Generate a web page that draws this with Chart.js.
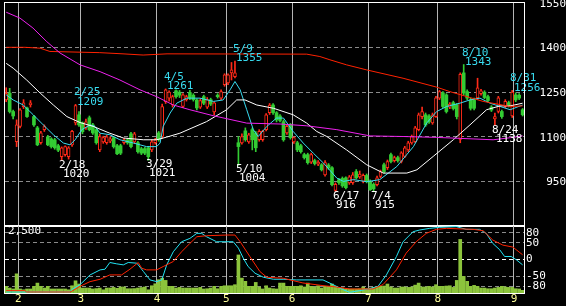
<!DOCTYPE html>
<html><head><meta charset="utf-8">
<script src="https://cdn.jsdelivr.net/npm/chart.js@4/dist/chart.umd.min.js"></script>
<style>
html,body{margin:0;padding:0;background:#000;}
#wrap{position:relative;width:566px;height:306px;overflow:hidden;background:#000;}
canvas{position:absolute;left:0;top:0;}
</style></head><body>
<div id="wrap"><canvas id="main" width="566" height="306"></canvas><canvas id="sub" width="566" height="306"></canvas></div>
<script>
// ---- DATA ----
const monthLabels = ['2','3','4','5','6','7','8','9'];
const monthStart  = [4, 22, 44, 64, 83, 105, 125, 147];   // index of first trading day in each month
const priceTicks  = [950, 1100, 1250, 1400, 1550];
const oscTicks    = [80, 50, 0, -50, -80];
const volTicks    = [2500];

const open = [1224,1247,1185,1084,1135,1201,1197,1208,1168,1130,
 1080,1124,1100,1093,1090,1070,1033,1040,1033,1073,
 1147,1174,1147,1130,1164,1140,1124,1056,1083,1080,
 1085,1097,1070,1070,1080,1090,1110,1083,1080,1060,
 1060,1063,1056,1080,1113,1101,1218,1230,1207,1255,
 1250,1202,1225,1249,1240,1224,1200,1235,1200,1225,
 1184,1240,1230,1275,1281,1315,1302,1080,1079,1120,
 1083,1124,1113,1090,1090,1124,1181,1207,1181,1170,
 1151,1113,1141,1083,1080,1070,1040,1040,1015,1020,
 1008,1006,972,1005,996,920,956,960,962,945,
 946,983,965,950,970,950,940,939,967,1006,
 996,1040,1020,1030,1017,1034,1056,1079,1084,1124,
 1168,1174,1170,1147,1168,1230,1248,1241,1200,1215,
 1208,1091,1315,1252,1224,1224,1231,1245,1250,1235,
 1200,1160,1185,1185,1202,1215,1170,1241,1240,1191];
const high = [1265,1263,1190,1157,1195,1225,1200,1222,1172,1135,
 1118,1140,1105,1097,1095,1075,1066,1070,1067,1122,
 1209,1185,1150,1160,1170,1145,1128,1110,1102,1105,
 1100,1100,1075,1075,1095,1095,1115,1115,1085,1065,
 1065,1068,1090,1095,1118,1210,1261,1255,1240,1258,
 1256,1245,1240,1256,1245,1228,1228,1240,1232,1230,
 1218,1245,1258,1312,1312,1350,1355,1101,1110,1130,
 1112,1130,1118,1124,1122,1178,1212,1212,1185,1175,
 1157,1140,1145,1100,1085,1075,1045,1045,1045,1025,
 1020,1010,1020,1010,1000,945,960,965,965,970,
 980,990,985,975,975,955,945,968,988,1012,
 1022,1045,1035,1035,1050,1068,1085,1106,1135,1180,
 1200,1180,1175,1180,1236,1256,1252,1245,1215,1220,
 1212,1315,1343,1258,1230,1230,1297,1260,1255,1240,
 1205,1180,1236,1190,1225,1220,1256,1248,1245,1195];
const low = [1218,1180,1160,1067,1130,1195,1165,1200,1135,1070,
 1075,1118,1070,1062,1058,1050,1020,1035,1025,1068,
 1140,1135,1110,1125,1120,1108,1075,1050,1078,1075,
 1080,1062,1040,1040,1075,1075,1063,1078,1045,1040,
 1040,1021,1050,1075,1085,1095,1212,1220,1200,1230,
 1232,1198,1220,1225,1220,1190,1195,1208,1195,1205,
 1174,1230,1225,1270,1275,1291,1298,1004,1075,1085,
 1078,1056,1050,1085,1085,1120,1175,1175,1150,1150,
 1085,1108,1092,1078,1050,1045,1025,1008,1010,1005,
 1003,985,968,990,935,916,940,930,925,940,
 940,958,960,945,945,920,915,935,962,978,
 990,1012,1015,1015,1012,1030,1050,1075,1080,1120,
 1160,1135,1145,1142,1165,1225,1198,1180,1195,1190,
 1160,1080,1240,1225,1190,1190,1225,1240,1228,1218,
 1185,1138,1180,1162,1198,1200,1165,1218,1225,1170];
const close = [1245,1185,1170,1140,1191,1214,1168,1214,1140,1073,
 1113,1134,1073,1067,1063,1055,1063,1067,1063,1118,
 1205,1140,1117,1150,1124,1113,1080,1101,1097,1100,
 1093,1067,1043,1045,1090,1080,1067,1110,1050,1045,
 1045,1033,1083,1090,1090,1202,1258,1250,1235,1235,
 1240,1241,1235,1230,1225,1197,1222,1213,1225,1210,
 1214,1235,1252,1308,1308,1325,1315,1067,1101,1090,
 1107,1090,1063,1118,1118,1174,1207,1181,1157,1155,
 1090,1135,1097,1097,1056,1050,1030,1013,1040,1010,
 1015,989,1013,995,939,940,946,935,929,965,
 972,962,975,970,950,922,925,962,983,983,
 1017,1017,1030,1020,1046,1063,1080,1101,1130,1174,
 1185,1140,1150,1174,1231,1252,1202,1185,1210,1195,
 1168,1310,1247,1230,1196,1196,1265,1255,1232,1222,
 1190,1168,1231,1168,1219,1205,1250,1224,1230,1174];
const volume = [250,185,150,715,150,120,150,150,250,370,
 250,185,250,150,150,150,150,150,120,270,
 455,335,185,185,185,150,165,185,120,185,
 185,210,175,225,225,160,160,165,185,205,
 225,120,270,345,495,555,470,250,250,185,
 210,185,185,185,185,185,210,150,160,185,
 250,160,250,270,270,270,310,1420,555,435,
 250,250,395,225,150,270,185,160,150,370,
 370,250,250,250,250,270,225,370,250,225,
 270,185,250,225,335,250,185,185,150,150,
 150,150,160,225,160,185,205,250,250,260,
 335,225,185,185,225,225,210,225,295,370,
 225,225,250,225,310,250,250,260,270,210,
 470,2000,620,435,250,285,250,185,185,160,
 160,185,210,250,225,210,210,160,150,100];

// moving averages, read as (day index, price) samples
const maShortIdx = [0,2,4.9,7.8,10.7,13.6,16.5,18.4,19.9,21.8,24.2,25.6,27.1,29.9,32.8,36.7,40.5,43.4,44.4,45.3,47.3,49.2,52.1,55.9,59.8,62.6,64.6,66,67.5,69.4,71.3,72.7,75.2,78,80,82.8,85.7,88.6,91.5,95.4,97.3,100.2,104,107.8,112.7,117.5,121.3,124.2,127.1,130.9,133.8,136.7,139.6,142.5,145.4,149];
const maShortVal = [1241,1224,1207,1174,1140,1107,1079,1073,1090,1124,1140,1135,1112,1107,1090,1079,1067,1067,1079,1135,1180,1213,1230,1230,1219,1224,1258,1286,1258,1191,1124,1101,1135,1163,1163,1118,1079,1045,1012,961,950,956,949,956,1000,1067,1146,1185,1202,1213,1224,1230,1213,1202,1191,1207];
const maMidIdx = [0,2,5.9,9.8,13.6,17.5,21.3,25.1,29.9,33.8,39.6,43.4,46.3,50.1,57.8,63.6,66.5,68.9,72.3,77.1,82.8,86.7,89.6,92.5,98.2,104,108.8,115.6,118.5,123.2,129,133.8,138.6,142.5,145.4,149];
const maMidVal = [1347,1331,1291,1247,1207,1168,1148,1135,1112,1096,1090,1090,1099,1112,1151,1191,1224,1224,1207,1196,1174,1146,1118,1101,1056,1006,978,978,989,1034,1090,1140,1191,1204,1204,1213];
const maLongIdx = [0,4,7.7,11.7,15.5,21.3,27.1,32.8,38.6,43.4,48.2,53,59.7,69.4,79,86.7,95.4,105,114.5,124.2,140.5,146.2,149];
const maLongVal = [1519,1499,1466,1420,1382,1342,1319,1291,1258,1235,1207,1191,1171,1146,1143,1137,1124,1103,1101,1098,1090,1098,1103];
const maXLongIdx = [0,5.4,9.8,12.6,27,33.7,39.5,46.4,86.7,90.5,93.4,98.2,104,114.5,124.2,128,137.6,145.4,149];
const maXLongVal = [1401,1401,1398,1387,1383,1379,1375,1379,1378,1370,1359,1342,1325,1297,1267,1252,1219,1202,1204];

// oscillator lines in the lower panel
const oscAIdx = [0,18.4,18.9,21.3,24.2,27.1,28.5,29.9,31.9,33.8,35.2,37.7,39.6,41.5,43.4,44.9,46.3,48.2,50.6,53,55,56.4,57.8,60.7,65.5,67,68.4,69.8,71.8,74.2,77.1,79.9,83.7,91.4,94.3,97.2,99.1,102,104.9,107.3,109.7,112.6,114.5,117.4,119.3,122.2,125.1,129.9,132.7,136.6,138.5,140.4,142.4,143.8,145.7,147.2,149];
const oscAVal = [-97,-97,-90,-75,-46,-31,-29,-9,-13,-16,-9,-11,-36,-61,-66,-61,-16,23,53,63,78,78,68,53,53,34,4,-21,-41,-53,-59,-59,-61,-61,-75,-90,-98,-93,-87,-80,-46,9,53,83,88,93,96,98,90,90,78,48,29,9,9,-1,-16];
const oscBIdx = [0,5.4,5.9,18.4,18.9,21.3,24.2,27.1,29.9,33.3,35.7,38.1,39.1,40.5,43.4,45.3,48.2,50.6,53,55,57.8,63.6,66,67.5,70.3,73.2,75.2,79.9,85.6,91.4,95.2,99.1,105.8,108.7,112.6,115.4,118.3,121.2,124.1,127,134.7,137.6,140.4,143.3,146.2,149];
const oscBVal = [-93,-93,-97,-97,-95,-80,-66,-59,-46,-46,-29,-9,-26,-31,-31,-21,-6,23,48,68,71,73,73,53,9,-36,-53,-56,-70,-78,-82,-88,-88,-75,-31,19,53,78,90,93,90,86,58,43,37,14];

// marked highs / lows
const markIdx  = [20, 16, 41, 46, 66, 67, 95, 106, 132, 141, 146];
const markDate = ['2/25','2/18','3/29','4/5','5/9','5/10','6/17','7/4','8/10','8/24','8/31'];
const markType = ['H','L','L','H','H','L','L','L','H','L','H'];

// ---- STYLE ----
const RED = '#ff2a18', GREEN = '#33cc33', CYAN = '#38dcf0', VOL = '#8cc43c';
const FONT = {family: 'DejaVu Sans Mono', size: 11};
const X_MIN = -0.35, X_MAX = 149.4;
Chart.defaults.font.family = 'DejaVu Sans Mono';
Chart.defaults.font.size = 11;
Chart.defaults.color = '#ffffff';

const dayIdx = open.map((_, i) => i);
const isUp = i => close[i] >= open[i];
const pts = (xs, ys) => xs.map((x, k) => ({x: x, y: ys[k]}));

const framePlugin = {
  id: 'frame',
  afterDraw(chart) {
    const a = chart.chartArea, ctx = chart.ctx;
    ctx.save();
    ctx.strokeStyle = '#ffffff'; ctx.lineWidth = 1;
    ctx.strokeRect(Math.round(a.left) - 0.5, Math.round(a.top) - 0.5,
                   Math.round(a.right - a.left) + 1, Math.round(a.bottom - a.top) + 1);
    ctx.restore();
  }
};

const markPlugin = {
  id: 'marks',
  afterDatasetsDraw(chart) {
    const xs = chart.scales.x, ys = chart.scales.y, ctx = chart.ctx;
    ctx.save();
    ctx.font = '11px "DejaVu Sans Mono"';
    ctx.textAlign = 'left'; ctx.textBaseline = 'middle';
    markIdx.forEach((i, k) => {
      const px = xs.getPixelForValue(i);
      if (markType[k] === 'H') {
        const py = ys.getPixelForValue(high[i]);
        ctx.fillStyle = CYAN;
        ctx.fillText(markDate[k], Math.round(px - 2), Math.round(py - 12));
        ctx.fillText(String(high[i]), Math.round(px + 1.5), Math.round(py - 2.5));
      } else {
        const py = ys.getPixelForValue(low[i]);
        ctx.fillStyle = '#ffffff';
        ctx.fillText(markDate[k], Math.round(px - 2.5), Math.round(py + 4));
        ctx.fillText(String(low[i]), Math.round(px + 1), Math.round(py + 13));
      }
    });
    ctx.restore();
  }
};

function xScale(showLabels) {
  return {
    type: 'linear', min: X_MIN, max: X_MAX, offset: false,
    grid: {display: true, color: '#b4b4b4', lineWidth: 1, drawTicks: false, offset: false},
    border: {display: false},
    ticks: {display: showLabels, color: '#ffff99', font: FONT, padding: 0, autoSkip: false, maxRotation: 0,
            callback: (v, k) => monthLabels[k]},
    afterBuildTicks: s => { s.ticks = monthStart.map(v => ({value: v - 0.5})); },
    afterFit: s => { s.height = showLabels ? 13 : 0; s.paddingLeft = 0; s.paddingRight = 0; }
  };
}

const lineDS = (xs, ys, color, axis) => ({
  type: 'line', data: pts(xs, ys), borderColor: color, borderWidth: 1,
  pointRadius: 0, fill: false, tension: 0, order: 0, yAxisID: axis
});

new Chart(document.getElementById('main'), {
  type: 'bar',
  data: {
    datasets: [
      lineDS(maLongIdx, maLongVal, '#ee22ee', 'y'),
      lineDS(maXLongIdx, maXLongVal, '#ff2200', 'y'),
      lineDS(maMidIdx, maMidVal, '#ffffff', 'y'),
      lineDS(maShortIdx, maShortVal, CYAN, 'y'),
      {
        type: 'bar', order: 1, grouped: false, yAxisID: 'y',
        data: dayIdx.map(i => ({x: i, y: [open[i], close[i]]})),
        barThickness: 3, maxBarThickness: 3, barPercentage: 1, categoryPercentage: 1,
        borderSkipped: false,
        backgroundColor: c => isUp(c.dataIndex) ? '#000000' : GREEN,
        borderColor: c => isUp(c.dataIndex) ? RED : GREEN,
        borderWidth: c => isUp(c.dataIndex) ? 1 : 0
      },
      {
        type: 'bar', order: 2, grouped: false, yAxisID: 'y',
        data: dayIdx.map(i => ({x: i, y: [low[i], high[i]]})),
        barThickness: 1, maxBarThickness: 1, barPercentage: 1, categoryPercentage: 1,
        borderWidth: 0,
        backgroundColor: c => isUp(c.dataIndex) ? RED : GREEN
      }
    ]
  },
  options: {
    responsive: false, animation: false, devicePixelRatio: 1, events: [],
    layout: {padding: {left: 5, top: 3, right: 0, bottom: 80}},
    plugins: {legend: {display: false}, tooltip: {enabled: false}},
    scales: {
      x: xScale(false),
      y: {
        type: 'linear', position: 'right', min: 800, max: 1550,
        afterBuildTicks: s => { s.ticks = [800].concat(priceTicks).map(v => ({value: v})); },
        grid: {color: c => (c.tick && (c.tick.value === 800 || c.tick.value === 1550)) ? 'rgba(0,0,0,0)' : '#8a8a8a',
               drawTicks: false, lineWidth: 1},
        border: {display: false, dash: [4, 3]},
        ticks: {color: '#ffffff', font: FONT, padding: 1, crossAlign: 'far', labelOffset: 1,
                callback: v => v === 800 ? '' : String(v)},
        afterFit: s => { s.width = 42; s.paddingTop = 0; s.paddingBottom = 0; }
      }
    }
  },
  plugins: [framePlugin, markPlugin]
});

new Chart(document.getElementById('sub'), {
  type: 'bar',
  data: {
    datasets: [
      lineDS(oscBIdx, oscBVal, '#ff2200', 'yOsc'),
      lineDS(oscAIdx, oscAVal, '#22e4f4', 'yOsc'),
      {
        type: 'bar', order: 2, grouped: false, yAxisID: 'yVol',
        data: dayIdx.map(i => ({x: i, y: volume[i]})),
        barThickness: 3, maxBarThickness: 3, barPercentage: 1, categoryPercentage: 1,
        borderWidth: 0, backgroundColor: VOL
      }
    ]
  },
  options: {
    responsive: false, animation: false, devicePixelRatio: 1, events: [],
    layout: {padding: {left: 5, top: 226, right: 0, bottom: 0}},
    plugins: {legend: {display: false}, tooltip: {enabled: false}},
    scales: {
      x: xScale(true),
      yOsc: {
        type: 'linear', position: 'right', min: -100, max: 100,
        afterBuildTicks: s => { s.ticks = oscTicks.map(v => ({value: v})); },
        grid: {color: c => (c.tick && c.tick.value === 0) ? '#ffffff' : '#8a8a8a', drawTicks: false, lineWidth: 1},
        border: {display: false, dash: [4, 3]},
        ticks: {color: '#ffffff', font: FONT, padding: 2, crossAlign: 'near'},
        afterFit: s => { s.width = 42; s.paddingTop = 0; s.paddingBottom = 0; }
      },
      yVol: {
        type: 'linear', position: 'left', min: 0, max: 2500,
        afterBuildTicks: s => { s.ticks = volTicks.map(v => ({value: v})); },
        grid: {display: false, drawTicks: false},
        border: {display: false},
        ticks: {color: '#ffffff', font: FONT, mirror: true, padding: 3, labelOffset: 5},
        afterFit: s => { s.width = 0; s.paddingTop = 0; s.paddingBottom = 0; }
      }
    }
  },
  plugins: [framePlugin]
});
</script>
</body></html>
